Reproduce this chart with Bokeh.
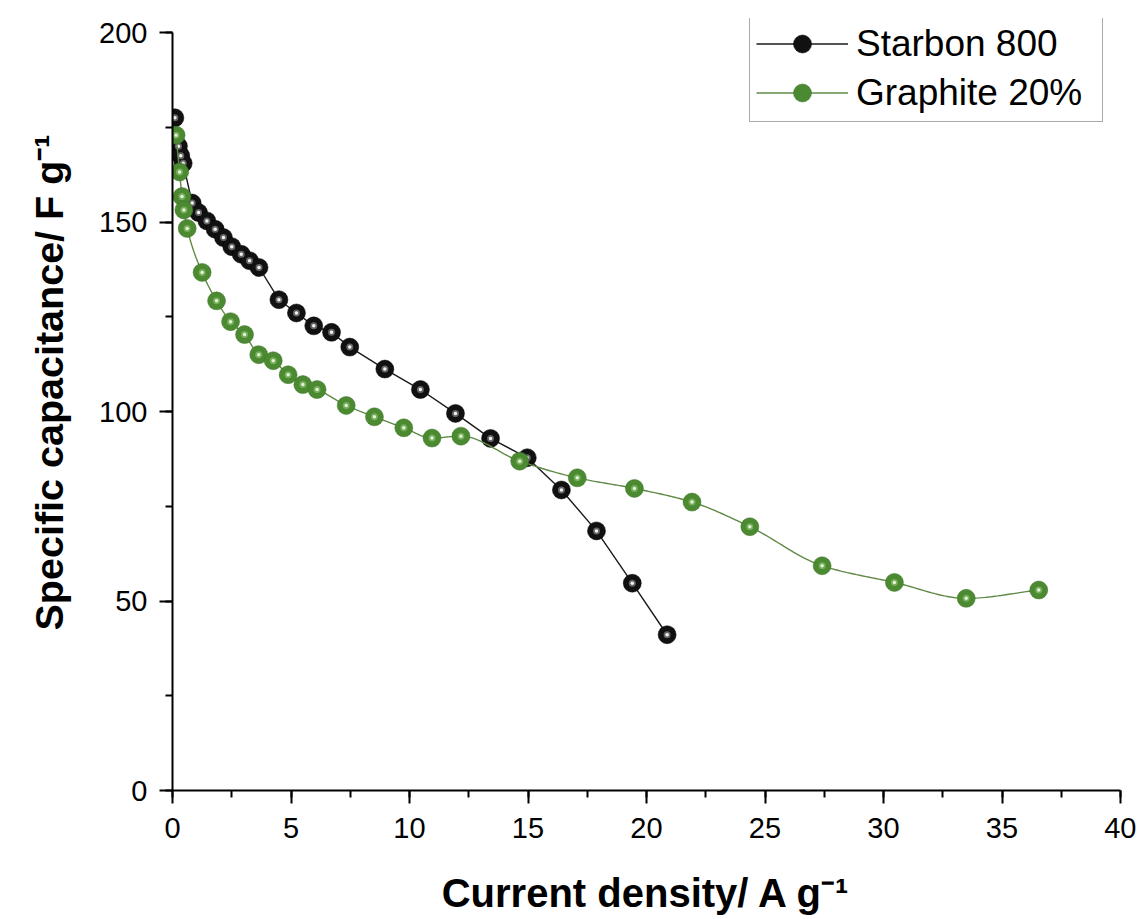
import numpy as np
from bokeh.plotting import figure
from bokeh.models import (Legend, LegendItem, Title, SingleIntervalTicker, Range1d)
from bokeh.embed import file_html
from bokeh.resources import INLINE

# ---- data ----
starbon_x = [0.1, 0.25, 0.35, 0.45, 0.83, 1.1, 1.45, 1.8, 2.15, 2.5, 2.9, 3.25, 3.65,
             4.49, 5.23, 5.96, 6.71, 7.48, 8.96, 10.46, 11.94, 13.42, 14.97, 16.41,
             17.89, 19.4, 20.87]
starbon_y = [177.5, 170.0, 167.5, 165.5, 155.0, 152.5, 150.3, 148.1, 145.9, 143.5, 141.5,
             139.8, 138.0, 129.5, 126.0, 122.6, 120.9, 117.0, 111.2, 105.8, 99.5, 92.9,
             87.8, 79.3, 68.5, 54.7, 41.1]

graphite_x = [0.15, 0.3, 0.4, 0.48, 0.62, 1.25, 1.86, 2.45, 3.04, 3.64, 4.25, 4.88, 5.5,
              6.1, 7.33, 8.52, 9.76, 10.95, 12.17, 14.65, 17.08, 19.49, 21.92, 24.36,
              27.41, 30.46, 33.49, 36.55]
graphite_y = [172.9, 163.2, 156.7, 153.2, 148.3, 136.7, 129.2, 123.7, 120.3, 115.0, 113.4,
              109.7, 107.1, 105.8, 101.6, 98.6, 95.7, 93.0, 93.5, 86.9, 82.5, 79.7, 76.1,
              69.6, 59.3, 54.9, 50.7, 52.9]

series_names = ["Starbon 800", "Graphite 20%"]
x_label = "Current density/ A g\u207b\u00b9"
y_label = "Specific capacitance/ F g\u207b\u00b9"


def pchip_curve(x, y, n=24):
    """Shape-preserving smooth connection through the data points (for drawing the line)."""
    x = np.asarray(x, float)
    y = np.asarray(y, float)
    h = np.diff(x)
    d = np.diff(y) / h
    m = np.zeros_like(y)
    m[0], m[-1] = d[0], d[-1]
    for k in range(1, len(x) - 1):
        if d[k - 1] * d[k] > 0:
            w1 = 2 * h[k] + h[k - 1]
            w2 = h[k] + 2 * h[k - 1]
            m[k] = (w1 + w2) / (w1 / d[k - 1] + w2 / d[k])
    xs, ys = [], []
    t = np.linspace(0, 1, n)
    for k in range(len(h)):
        h00 = 2 * t**3 - 3 * t**2 + 1
        h10 = t**3 - 2 * t**2 + t
        h01 = -2 * t**3 + 3 * t**2
        h11 = t**3 - t**2
        xs.extend(x[k] + t * h[k])
        ys.extend(h00 * y[k] + h10 * h[k] * m[k] + h01 * y[k + 1] + h11 * h[k] * m[k + 1])
    return xs, ys


FONT = "Liberation Sans"

# the frame reaches a little above 200 so the legend can sit there; the axis stops at 200
p = figure(width=1136, height=917, output_backend="svg", toolbar_location=None,
           x_range=Range1d(0, 40), y_range=Range1d(0, 203.7), title=None,
           min_border_left=172, min_border_top=18, min_border_right=16,
           min_border_bottom=122)
p.background_fill_color = "white"
p.border_fill_color = "white"
p.outline_line_color = None
p.grid.visible = False

# ---- series ----
bl = p.line(starbon_x, starbon_y, line_color="#1a1a1a", line_width=1.4)
bb = p.scatter(starbon_x, starbon_y, size=18, marker="circle",
               fill_color="#111111", line_color="#000000", line_width=0.5)
p.scatter(starbon_x, starbon_y, size=7, marker="circle", fill_color="#7a7a7a",
          fill_alpha=0.8, line_color=None)
p.scatter(starbon_x, starbon_y, size=3.5, marker="circle", fill_color="#f2f2f2",
          line_color=None)

gx, gy = pchip_curve(graphite_x, graphite_y)
gl = p.line(gx, gy, line_color="#5f8a45", line_width=1.4)
gb = p.scatter(graphite_x, graphite_y, size=18, marker="circle",
               fill_color="#4b8a31", line_color="#3d7227", line_width=0.5)
p.scatter(graphite_x, graphite_y, size=7, marker="circle", fill_color="#7fb463",
          fill_alpha=0.85, line_color=None)
p.scatter(graphite_x, graphite_y, size=3.5, marker="circle", fill_color="#e2f2d6",
          line_color=None)

# ---- axes ----
for ax, interval in ((p.xaxis, 5), (p.yaxis, 50)):
    ax.ticker = SingleIntervalTicker(interval=interval, num_minor_ticks=2)
    ax.axis_line_width = 2
    ax.axis_line_color = "black"
    ax.major_tick_line_width = 2
    ax.minor_tick_line_width = 2
    ax.major_tick_line_color = "black"
    ax.minor_tick_line_color = "black"
    ax.major_tick_in = 0
    ax.major_tick_out = 13
    ax.minor_tick_in = 0
    ax.minor_tick_out = 7
    ax.major_label_text_font = FONT
    ax.major_label_text_font_size = "29px"
    ax.major_label_text_color = "black"
p.yaxis.bounds = (0, 200)
p.xaxis.major_label_standoff = 14
p.yaxis.major_label_standoff = 12

p.xaxis.axis_label = x_label
p.xaxis.axis_label_text_font = FONT
p.xaxis.axis_label_text_font_style = "bold"
p.xaxis.axis_label_text_font_size = "40px"
p.xaxis.axis_label_text_color = "black"
p.xaxis.axis_label_standoff = 30

ytitle = Title(text=y_label, align="left", vertical_align="top", offset=160,
               standoff=48, text_font=FONT, text_font_style="bold",
               text_font_size="39.5px", text_color="black")
p.add_layout(ytitle, "left")

# ---- legend ----
legend = Legend(items=[LegendItem(label=series_names[0], renderers=[bl, bb]),
                       LegendItem(label=series_names[1], renderers=[gl, gb])],
                location=(577, 668))
legend.label_text_font = FONT
legend.label_text_font_size = "37px"
legend.label_text_color = "black"
legend.glyph_width = 92
legend.glyph_height = 45
legend.label_height = 45
legend.label_width = 240
legend.label_standoff = 8
legend.padding = 6
legend.spacing = 4
legend.margin = 0
legend.border_line_color = "#555555"
legend.border_line_width = 1.2
legend.background_fill_color = "white"
legend.background_fill_alpha = 1
p.add_layout(legend, "center")

open("out.html", "w").write(file_html(p, INLINE))
